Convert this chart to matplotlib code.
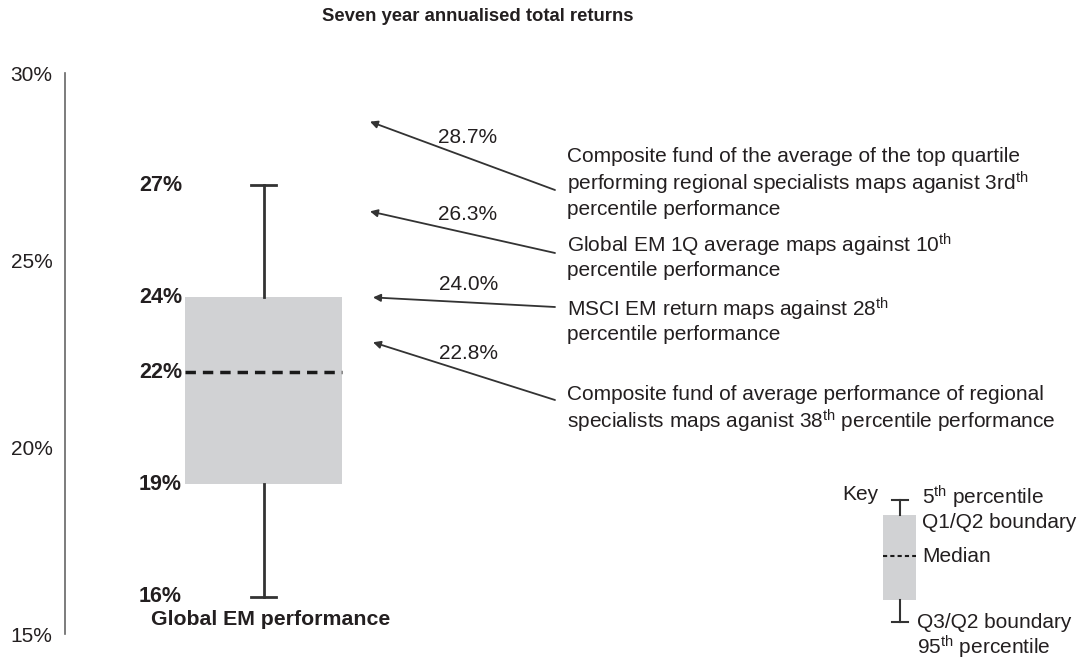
import matplotlib
matplotlib.use("Agg")
import matplotlib.pyplot as plt

plt.rcParams['font.family'] = ['Liberation Sans', 'DejaVu Sans']
plt.rcParams['mathtext.fontset'] = 'custom'
plt.rcParams['mathtext.rm'] = 'Liberation Sans'
plt.rcParams['mathtext.it'] = 'Liberation Sans:italic'
plt.rcParams['mathtext.bf'] = 'Liberation Sans:bold'

# Data
title = "Seven year annualised total returns"
box_label = "Global EM performance"
box_low, box_q1, box_med, box_q3, box_high = 16, 19, 22, 24, 27
y_ticks = [15, 20, 25, 30]

marker_values = [28.7, 26.3, 24.0, 22.8]
marker_texts = [
    "Composite fund of the average of the top quartile\n"
    "performing regional specialists maps aganist 3rd$^{\\mathrm{th}}$\n"
    "percentile performance",
    "Global EM 1Q average maps against 10$^{\\mathrm{th}}$\n"
    "percentile performance",
    "MSCI EM return maps against 28$^{\\mathrm{th}}$\n"
    "percentile performance",
    "Composite fund of average performance of regional\n"
    "specialists maps aganist 38$^{\\mathrm{th}}$ percentile performance",
]

# Layout (pixels)
W, H = 1083, 662
PX = 37.4           # pixels per percentage point
YTOP = 30 + 73 / PX  # value at top edge of figure
FS = 15


def yp(p):
    # convert pixel row to axis value, for layout only
    return YTOP - p / PX


tail_rows = [190, 253, 307, 400]
text_rows = [183, 256, 320, 410]
tip_x = [370, 370, 373, 373]
tail_x = 555

txt_col = '#231f20'
fig = plt.figure(figsize=(W / 100, H / 100), dpi=100)
ax = fig.add_axes([0, 0, 1, 1])
ax.set_xlim(0, W)
ax.set_ylim(YTOP - H / PX, YTOP)

for s in ['top', 'right', 'bottom']:
    ax.spines[s].set_visible(False)
ax.spines['left'].set_position(('data', 65))
ax.spines['left'].set_bounds(15, 30)
ax.spines['left'].set_color('#666666')
ax.spines['left'].set_linewidth(1.2)
ax.set_xticks([])
ax.set_yticks(y_ticks)
ax.set_yticklabels([f"{t}%" for t in y_ticks], fontsize=FS, color=txt_col)
ax.tick_params(axis='y', length=0, pad=9)

# main box
stats = [dict(med=box_med, q1=box_q1, q3=box_q3, whislo=box_low, whishi=box_high)]
ax.bxp(stats, positions=[263.5], widths=157, capwidths=25, patch_artist=True,
       showfliers=False, manage_ticks=False,
       boxprops=dict(facecolor='#d1d2d4', edgecolor='none'),
       medianprops=dict(color='#1a1a1a', linestyle=(0, (3, 2)), linewidth=2.5),
       whiskerprops=dict(color='#333333', linewidth=2),
       capprops=dict(color='#333333', linewidth=2))

for v in [box_high, box_q3, box_med, box_q1, box_low]:
    ax.text(182, v, f"{v}%", ha='right', va='center', fontsize=15.5,
            fontweight='bold', color=txt_col)

ax.annotate(box_label, xy=(271, box_low), xytext=(0, -10), textcoords='offset points',
            ha='center', va='top', fontsize=15.3, fontweight='bold', color=txt_col)

ax.text(478, yp(16), title, ha='center', va='center', fontsize=13.3,
        fontweight='bold', color=txt_col)

# arrows with values and descriptions
for v, tx, tr, xr, desc in zip(marker_values, tip_x, tail_rows, text_rows, marker_texts):
    ax.annotate('', xy=(tx, v), xytext=(tail_x, yp(tr)),
                arrowprops=dict(arrowstyle='-|>', color='#333333', lw=1.3,
                                mutation_scale=11, shrinkA=0, shrinkB=0))
    ax.annotate(f"{v:.1f}%", xy=((tx + tail_x) / 2 + 5, (v + yp(tr)) / 2),
                xytext=(0, 13), textcoords='offset points', ha='center',
                va='center', fontsize=FS, color=txt_col)
    ax.text(567, yp(xr), desc, ha='left', va='center', fontsize=FS,
            color=txt_col, linespacing=1.18)

# key
key_stats = [dict(med=yp(556), q1=yp(600), q3=yp(515), whislo=yp(622), whishi=yp(500))]
ax.bxp(key_stats, positions=[899.5], widths=33, capwidths=16, patch_artist=True,
       showfliers=False, manage_ticks=False,
       boxprops=dict(facecolor='#d1d2d4', edgecolor='none'),
       medianprops=dict(color='#1a1a1a', linestyle=(0, (2, 1.5)), linewidth=1.5),
       whiskerprops=dict(color='#333333', linewidth=1.5),
       capprops=dict(color='#333333', linewidth=1.5))

ax.text(878, yp(494), "Key", ha='right', va='center', fontsize=FS, color=txt_col)
key_labels = [("5$^{\\mathrm{th}}$ percentile", 922, 497),
              ("Q1/Q2 boundary", 922, 523),
              ("Median", 922, 557),
              ("Q3/Q2 boundary", 917, 623),
              ("95$^{\\mathrm{th}}$ percentile", 917, 647)]
for lab, x, r in key_labels:
    ax.text(x, yp(r), lab, ha='left', va='center', fontsize=FS, color=txt_col)

fig.savefig("out.png", dpi=100)
